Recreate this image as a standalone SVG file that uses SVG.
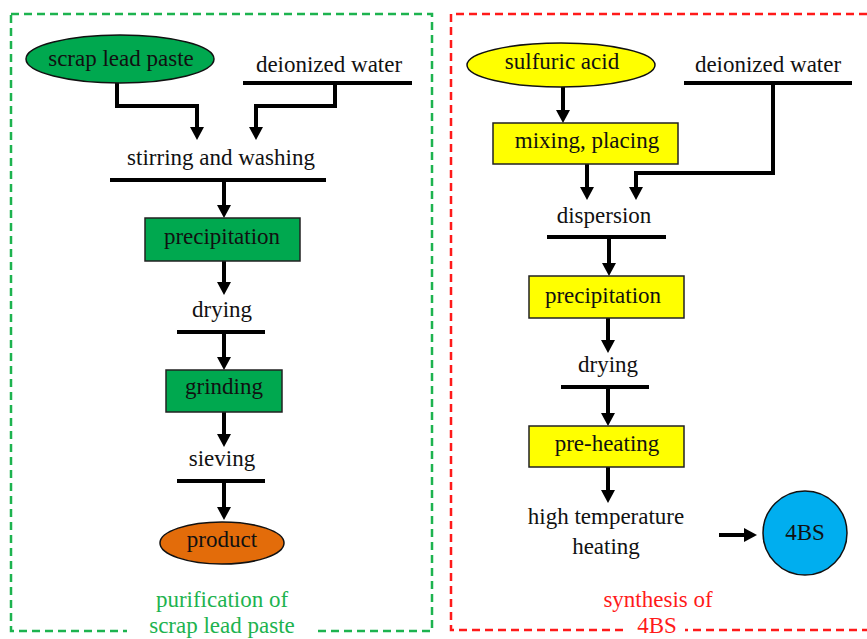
<svg xmlns="http://www.w3.org/2000/svg" width="867" height="639" viewBox="0 0 867 639">
<style>
  text { font-family: 'Times New Roman', 'Liberation Serif', Tinos, 'DejaVu Serif', serif; font-size: 23px; fill: #111; text-anchor: middle; }
  .bar { stroke: #000; stroke-width: 4; fill: none; }
  .conn { stroke: #000; stroke-width: 4; fill: none; marker-end: url(#ah); }
  .frameG { fill: none; stroke: #1DB34F; stroke-width: 2.5; stroke-dasharray: 8 5; }
  .frameR { fill: none; stroke: #FF1A1A; stroke-width: 2.5; stroke-dasharray: 8 5; }
  .gbox { fill: #00A84F; stroke: #222; stroke-width: 1.5; }
  .ybox { fill: #FFFF00; stroke: #222; stroke-width: 1.5; }
  .lblG { fill: #1DB34F; }
  .lblR { fill: #FF1A1A; }
</style>
<defs>
  <marker id="ah" markerUnits="userSpaceOnUse" markerWidth="14" markerHeight="14" viewBox="0 -7 14 14" refX="1" refY="0" orient="auto">
    <path d="M0,-7 L13,0 L0,7 z" fill="#000"/>
  </marker>
</defs>
<rect width="867" height="639" fill="#fff"/>

<g id="frames">
  <rect class="frameG" x="11" y="14" width="421" height="617"/>
  <path class="frameR" d="M867,14 H451 V630 H867"/>
  <rect x="127" y="618" width="188" height="21" fill="#fff"/>
  <rect x="628" y="618" width="57" height="21" fill="#fff"/>
</g>

<g id="connectors">
  <line class="bar" x1="243" y1="83" x2="412" y2="83"/>
  <line class="bar" x1="110" y1="180" x2="326" y2="180"/>
  <line class="bar" x1="177" y1="332" x2="265" y2="332"/>
  <line class="bar" x1="177" y1="481" x2="265" y2="481"/>
  <line class="bar" x1="684" y1="83" x2="852" y2="83"/>
  <line class="bar" x1="547" y1="237" x2="666" y2="237"/>
  <line class="bar" x1="561" y1="387" x2="649" y2="387"/>

  <path class="conn" d="M117,83 V106 H197 V128"/>
  <path class="conn" d="M335,83 V106 H256 V128"/>
  <path class="conn" d="M224,180 V206"/>
  <path class="conn" d="M224,261 V283"/>
  <path class="conn" d="M224,332 V358"/>
  <path class="conn" d="M224,412 V435"/>
  <path class="conn" d="M224,481 V508"/>

  <path class="conn" d="M563,87 V111"/>
  <path class="conn" d="M587,164 V188"/>
  <path class="conn" d="M773,83 V173 H636 V188"/>
  <path class="conn" d="M609,237 V264"/>
  <path class="conn" d="M608,318 V341"/>
  <path class="conn" d="M608,387 V414"/>
  <path class="conn" d="M608,467 V491"/>
  <path class="conn" d="M719,535 H745"/>
</g>

<g id="scrap-lead-paste">
  <ellipse cx="120" cy="59" rx="94" ry="24" fill="#00A84F" stroke="#111" stroke-width="1.5"/>
  <text x="121" y="66">scrap lead paste</text>
</g>
<g id="deionized-water-1"><text x="329" y="72">deionized water</text></g>
<g id="stirring-washing"><text x="221" y="165">stirring and washing</text></g>
<g id="precipitation-1">
  <rect class="gbox" x="145" y="218" width="155" height="43"/>
  <text x="222" y="244">precipitation</text>
</g>
<g id="drying-1"><text x="222" y="317">drying</text></g>
<g id="grinding">
  <rect class="gbox" x="166" y="370" width="116" height="42"/>
  <text x="224" y="394">grinding</text>
</g>
<g id="sieving"><text x="222" y="466">sieving</text></g>
<g id="product">
  <ellipse cx="222" cy="543" rx="62" ry="21" fill="#E36C0A" stroke="#111" stroke-width="1.5"/>
  <text x="222" y="547">product</text>
</g>
<g id="label-purification">
  <text class="lblG" x="222" y="607">purification of</text>
  <text class="lblG" x="222" y="633">scrap lead paste</text>
</g>

<g id="sulfuric-acid">
  <ellipse cx="561" cy="65" rx="94" ry="22" fill="#FFFF00" stroke="#111" stroke-width="1.5"/>
  <text x="562" y="69">sulfuric acid</text>
</g>
<g id="deionized-water-2"><text x="768" y="72">deionized water</text></g>
<g id="mixing-placing">
  <rect class="ybox" x="493" y="123" width="185" height="41"/>
  <text x="587" y="148">mixing, placing</text>
</g>
<g id="dispersion"><text x="604" y="223">dispersion</text></g>
<g id="precipitation-2">
  <rect class="ybox" x="529" y="276" width="155" height="42"/>
  <text x="603" y="303">precipitation</text>
</g>
<g id="drying-2"><text x="608" y="372">drying</text></g>
<g id="pre-heating">
  <rect class="ybox" x="529" y="426" width="155" height="41"/>
  <text x="607" y="451">pre-heating</text>
</g>
<g id="high-temp-heating">
  <text x="606" y="524">high temperature</text>
  <text x="606" y="554">heating</text>
</g>
<g id="product-4bs">
  <circle cx="805" cy="533" r="42" fill="#00AEEF" stroke="#111" stroke-width="1.5"/>
  <text x="805" y="540">4BS</text>
</g>
<g id="label-synthesis">
  <text class="lblR" x="658" y="607">synthesis of</text>
  <text class="lblR" x="657" y="633">4BS</text>
</g>
</svg>
